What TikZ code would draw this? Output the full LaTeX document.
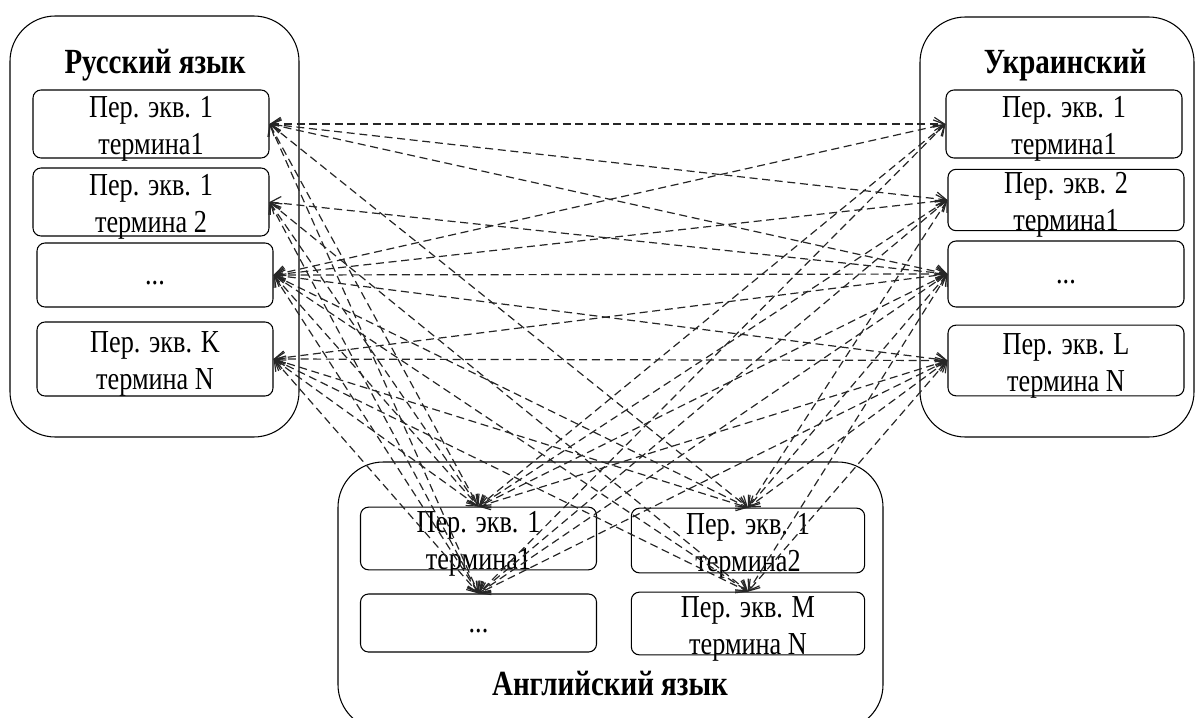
\documentclass[tikz,border=0pt]{standalone}
\usepackage{fontspec}
\setmainfont[FakeStretch=0.82]{Liberation Serif}
\usetikzlibrary{arrows.meta}

\begin{document}
\begin{tikzpicture}[
    x = 0.75pt, y = -0.75pt,
    every node/.style = {font = \fontsize{24}{27.75}\selectfont},
    lang/.style = {draw, line width = 0.8pt, rounded corners = 34pt,
        inner sep = 0pt},
    title/.style = {font = \fontsize{26.5}{28}\selectfont\bfseries},
    term/.style = {draw, line width = 0.8pt, rounded corners = 6pt,
        minimum width = 177pt, minimum height = 51pt,
        text height = 46pt, text depth = 0pt,
        inner sep = 0pt, align = center},
    dots/.style = {term, text height = 14pt, text depth = 0pt},
    link/.style = {black!85, line width = 0.9pt,
        dash pattern = on 6pt off 3.5pt,
        {Straight Barb[length = 7.5pt, width = 10pt]}-{Straight Barb[length = 7.5pt, width = 10pt]}}
]
\useasboundingbox (0,0) rectangle (1195,717);

% language groups
\node [lang, minimum width = 216.75pt, minimum height = 315.75pt] (rusBox) at (154.5,226.5) {};
\node [lang, minimum width = 205.5pt, minimum height = 315pt] (ukrBox) at (1057,227) {};
\node [lang, minimum width = 408.75pt, minimum height = 201pt] (engBox) at (610.5,596) {};

\node [title] (rusTitle) at (155,65) {Русский язык};
\node [title] (ukrTitle) at (1065,65) {Украинский};
\node [title] (engTitle) at (610,684) {Английский язык};

% equivalents
\node [term] (rus1) at (151,124) {Пер. экв. 1\\термина1};
\node [term] (rus2) at (151,202) {Пер. экв. 1\\термина 2};
\node [dots, minimum height = 48pt] (rus3) at (155,275) {...};
\node [term, minimum height = 55.5pt] (rus4) at (155,359) {Пер. экв. K\\термина N};

\node [term] (ukr1) at (1064,124) {Пер. экв. 1\\термина1};
\node [term, minimum height = 46pt] (ukr2) at (1066,200) {Пер. экв. 2\\термина1};
\node [dots, minimum height = 49.5pt] (ukr3) at (1066,274) {...};
\node [term, minimum height = 53pt] (ukr4) at (1066,360.5) {Пер. экв. L\\термина N};

\node [term, minimum height = 47pt] (eng1) at (478.5,538.5) {Пер. экв. 1\\термина1};
\node [dots, minimum height = 43.5pt] (eng3) at (478.5,623) {...};
\node [term, minimum width = 175pt, minimum height = 48.5pt] (eng2) at (748,540.5) {Пер. экв. 1\\термина2};
\node [term, minimum width = 175pt, minimum height = 47pt] (eng4) at (748,623.5) {Пер. экв. M\\термина N};

% links
\foreach \a/\b in {rus1/ukr1, rus1/ukr2, rus1/ukr3, rus2/ukr3, rus3/ukr1,
        rus3/ukr2, rus3/ukr3, rus3/ukr4, rus4/ukr3, rus4/ukr4}
    \draw [link] (\a.east) -- (\b.west);
\foreach \a/\b in {rus1/eng1, rus1/eng3, rus1/eng2, rus2/eng1, rus2/eng3,
        rus2/eng4, rus3/eng1, rus3/eng3, rus3/eng2, rus3/eng4,
        rus4/eng1, rus4/eng3, rus4/eng2, rus4/eng4}
    \draw [link] (\a.east) -- (\b.north);
\foreach \a/\b in {ukr1/eng1, ukr1/eng3, ukr2/eng1, ukr2/eng3, ukr2/eng2,
        ukr3/eng1, ukr3/eng3, ukr3/eng2, ukr3/eng4,
        ukr4/eng1, ukr4/eng3, ukr4/eng2, ukr4/eng4}
    \draw [link] (\a.west) -- (\b.north);
\end{tikzpicture}
\end{document}
